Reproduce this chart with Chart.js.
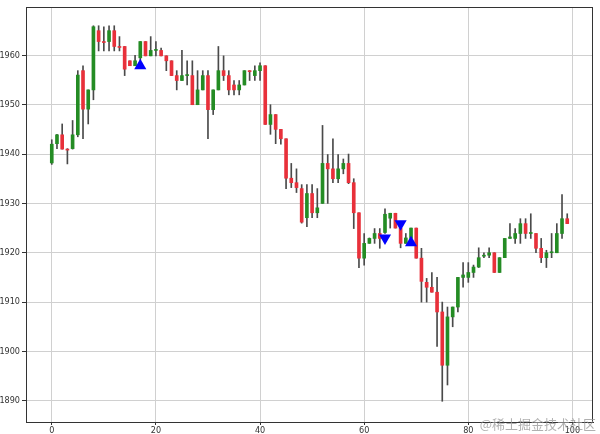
<!DOCTYPE html>
<html>
<head>
<meta charset="utf-8">
<script src="https://cdn.jsdelivr.net/npm/chart.js@4.4.1/dist/chart.umd.min.js"></script>
<style>
  html, body { margin: 0; padding: 0; background: #fff; }
  #wrap { position: relative; width: 600px; height: 434px; }
  #mark {
    position: absolute; right: 4px; bottom: 1px;
    font-family: "Noto Sans CJK SC", sans-serif; font-size: 13px;
    color: rgba(150, 150, 150, 0.75); white-space: nowrap;
  }
</style>
</head>
<body>
<div id="wrap">
  <canvas id="chart" width="600" height="434"></canvas>
  <div id="mark">@稀土掘金技术社区</div>
</div>
<script>
// OHLC per bar (index 0..99)
const opens = [
  1938.2, 1942.1, 1943.9, 1941.0, 1941.1, 1943.9, 1956.9, 1949.1, 1953.0, 1965.0,
  1962.8, 1962.8, 1965.0, 1961.8, 1961.8, 1958.9, 1957.9, 1959.5, 1962.8, 1959.9,
  1961.0, 1961.0, 1959.9, 1958.9, 1955.9, 1954.9, 1955.9, 1955.9, 1950.0, 1953.0,
  1955.9, 1949.0, 1953.0, 1956.9, 1955.9, 1954.0, 1953.0, 1954.0, 1956.9, 1955.9,
  1956.9, 1957.9, 1946.0, 1948.0, 1945.0, 1943.1, 1935.1, 1934.2, 1933.0, 1927.1,
  1932.0, 1928.1, 1930.0, 1938.1, 1937.0, 1935.0, 1937.0, 1938.1, 1934.2, 1928.1,
  1918.9, 1921.9, 1922.9, 1923.9, 1924.1, 1927.0, 1928.0, 1925.0, 1921.9, 1922.9,
  1925.0, 1918.9, 1914.0, 1913.0, 1912.0, 1908.0, 1897.2, 1907.0, 1909.0, 1915.0,
  1915.0, 1916.0, 1917.1, 1919.3, 1919.5, 1920.0, 1916.0, 1919.0, 1922.9, 1922.9,
  1923.9, 1925.9, 1923.9, 1923.9, 1920.9, 1919.0, 1920.0, 1920.0, 1923.9, 1926.9
];
const highs = [
  1942.9, 1944.0, 1946.1, 1941.1, 1946.8, 1956.9, 1957.9, 1953.0, 1966.0, 1966.0,
  1965.8, 1966.0, 1966.0, 1963.8, 1961.8, 1958.9, 1960.0, 1962.8, 1962.8, 1963.8,
  1962.8, 1961.5, 1959.9, 1958.9, 1956.9, 1961.0, 1958.9, 1958.9, 1956.9, 1956.9,
  1956.9, 1953.0, 1961.8, 1959.9, 1956.9, 1954.9, 1954.9, 1956.9, 1956.9, 1957.9,
  1958.5, 1957.9, 1950.0, 1948.0, 1945.0, 1943.1, 1938.1, 1937.0, 1933.8, 1933.8,
  1933.8, 1933.0, 1945.8, 1939.9, 1943.1, 1939.9, 1939.0, 1940.0, 1935.0, 1928.1,
  1923.9, 1923.0, 1924.9, 1924.9, 1928.9, 1928.0, 1928.0, 1925.5, 1923.9, 1925.0,
  1925.0, 1920.9, 1914.8, 1916.0, 1915.0, 1910.0, 1909.0, 1909.0, 1915.0, 1918.0,
  1918.0, 1917.5, 1921.0, 1920.0, 1921.0, 1920.0, 1919.0, 1922.9, 1925.9, 1924.9,
  1926.9, 1926.9, 1927.9, 1923.9, 1922.9, 1920.5, 1923.9, 1925.9, 1931.8, 1927.9
];
const lows = [
  1937.9, 1941.1, 1941.0, 1938.0, 1941.0, 1943.5, 1943.1, 1946.1, 1951.0, 1960.9,
  1960.9, 1960.9, 1960.9, 1960.9, 1955.9, 1957.9, 1957.9, 1958.9, 1959.9, 1959.9,
  1959.9, 1959.9, 1956.9, 1955.9, 1953.0, 1954.9, 1954.0, 1950.0, 1950.0, 1953.0,
  1943.1, 1948.0, 1953.0, 1954.9, 1952.0, 1952.0, 1952.0, 1954.0, 1954.9, 1954.9,
  1954.9, 1946.0, 1944.0, 1942.1, 1942.0, 1933.0, 1933.2, 1932.2, 1926.0, 1925.3,
  1927.1, 1927.1, 1930.0, 1930.0, 1934.2, 1934.2, 1936.0, 1934.0, 1924.9, 1917.0,
  1917.5, 1921.9, 1921.9, 1920.9, 1923.9, 1925.0, 1925.0, 1921.0, 1921.9, 1922.9,
  1918.9, 1910.0, 1910.0, 1912.0, 1901.0, 1889.9, 1893.2, 1905.0, 1908.0, 1913.0,
  1914.0, 1915.0, 1917.0, 1919.0, 1919.0, 1916.0, 1916.0, 1919.0, 1922.9, 1921.9,
  1921.9, 1922.9, 1922.9, 1920.0, 1918.0, 1917.0, 1919.0, 1920.0, 1922.9, 1925.9
];
const closes = [
  1942.0, 1943.9, 1941.0, 1940.8, 1943.9, 1956.0, 1949.1, 1953.0, 1965.8, 1962.8,
  1962.6, 1965.0, 1961.8, 1961.6, 1957.2, 1957.9, 1958.9, 1962.8, 1959.9, 1961.0,
  1961.2, 1959.9, 1958.9, 1955.9, 1954.9, 1955.9, 1956.1, 1950.0, 1953.0, 1955.9,
  1949.0, 1953.0, 1956.9, 1955.9, 1953.0, 1953.0, 1954.0, 1956.9, 1956.7, 1956.9,
  1957.9, 1946.0, 1948.0, 1945.0, 1943.1, 1935.1, 1934.2, 1933.2, 1926.2, 1932.0,
  1928.1, 1929.1, 1938.1, 1937.0, 1935.0, 1937.0, 1938.1, 1934.2, 1928.1, 1918.9,
  1921.9, 1922.9, 1923.9, 1922.9, 1927.8, 1928.0, 1925.0, 1921.9, 1923.0, 1925.0,
  1918.9, 1914.2, 1913.0, 1912.0, 1908.0, 1897.2, 1907.0, 1909.0, 1915.0, 1915.5,
  1916.0, 1917.1, 1919.0, 1919.5, 1920.0, 1916.0, 1919.0, 1922.9, 1923.2, 1923.9,
  1925.9, 1923.9, 1924.0, 1920.9, 1919.0, 1920.0, 1920.2, 1923.9, 1926.9, 1925.9
];

// signal markers
const buyX = [17, 69];
const buyY = [1957.9, 1922.0];
const sellX = [64, 67];
const sellY = [1923.0, 1925.9];

// axis ticks
const xTicks = [0, 20, 40, 60, 80, 100];
const yTicks = [1890, 1900, 1910, 1920, 1930, 1940, 1950, 1960];

const GREEN = '#248c24';
const RED = '#e8303a';
const WICK = '#4a4a4a';
const FONT_FAMILY = '"DejaVu Sans Condensed", "DejaVu Sans", sans-serif';
const TICK_FONT = { family: FONT_FAMILY, size: 9 };

const bodies = opens.map((o, i) => ({ x: i, y: [o, closes[i]] }));
const wicks = lows.map((l, i) => ({ x: i, y: [l, highs[i]] }));
const bodyColors = opens.map((o, i) => closes[i] >= o ? GREEN : RED);

// draw the top and right spines, plus the y tick labels (Chart.js clips them to the narrow axis box)
const frame = {
  id: 'frame',
  afterDraw(chart) {
    const { ctx, chartArea: a } = chart;
    const yScale = chart.scales.y;
    ctx.save();
    ctx.strokeStyle = '#333';
    ctx.lineWidth = 1;
    ctx.strokeRect(a.left + 0.5, a.top + 0.5, a.right - a.left - 1, a.bottom - a.top);
    ctx.fillStyle = '#333';
    ctx.font = '9px ' + FONT_FAMILY;
    ctx.textAlign = 'right';
    ctx.textBaseline = 'middle';
    yTicks.forEach(v => {
      ctx.fillText(String(v), a.left - 6, yScale.getPixelForValue(v));
    });
    ctx.restore();
  }
};

new Chart(document.getElementById('chart'), {
  type: 'bar',
  data: {
    datasets: [
      {
        type: 'scatter',
        data: buyX.map((x, i) => ({ x: x, y: buyY[i] })),
        pointStyle: 'triangle',
        pointRadius: 7,
        backgroundColor: '#0000ff',
        borderColor: '#0000ff',
        borderWidth: 0,
        order: 0
      },
      {
        type: 'scatter',
        data: sellX.map((x, i) => ({ x: x, y: sellY[i] })),
        pointStyle: 'triangle',
        rotation: 180,
        pointRadius: 7,
        backgroundColor: '#0000ff',
        borderColor: '#0000ff',
        borderWidth: 0,
        order: 0
      },
      {
        data: bodies,
        backgroundColor: bodyColors,
        barThickness: 3,
        minBarLength: 1,
        grouped: false,
        order: 1
      },
      {
        data: wicks,
        backgroundColor: WICK,
        barThickness: 1,
        grouped: false,
        order: 2
      }
    ]
  },
  options: {
    responsive: false,
    animation: false,
    layout: { padding: { top: 1, right: 7, left: 0, bottom: 0 } },
    plugins: { legend: { display: false }, tooltip: { enabled: false } },
    scales: {
      x: {
        type: 'linear',
        offset: false,
        min: -4.95,
        max: 103.95,
        afterBuildTicks: (s) => { s.ticks = xTicks.map(v => ({ value: v })); },
        afterFit: (s) => { s.height = 12; },
        ticks: { color: '#333', font: TICK_FONT, padding: 0, maxRotation: 0 },
        grid: { color: '#d0d0d0', tickColor: '#333', tickLength: 3, offset: false },
        border: { color: '#333' }
      },
      y: {
        min: 1885.7,
        max: 1969.8,
        afterBuildTicks: (s) => { s.ticks = yTicks.map(v => ({ value: v })); },
        afterFit: (s) => { s.width = 26; },
        ticks: { display: false },
        grid: { color: '#d0d0d0', tickColor: '#333', tickLength: 4 },
        border: { color: '#333' }
      }
    }
  },
  plugins: [frame]
});
</script>
</body>
</html>
